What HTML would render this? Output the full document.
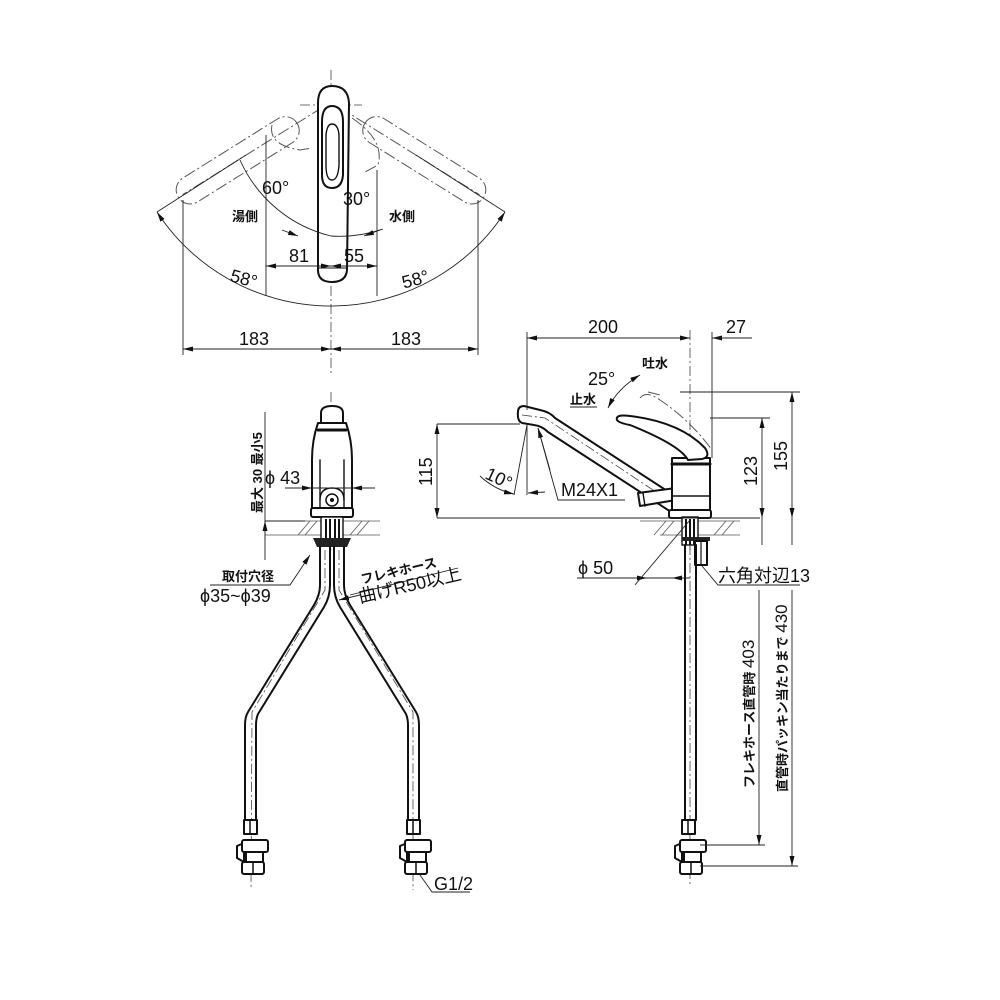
<!DOCTYPE html>
<html><head><meta charset="utf-8"><style>
html,body{margin:0;padding:0;background:#fff;}
svg{display:block;}
text{font-family:"Liberation Sans","Noto Sans CJK JP",sans-serif;fill:#111;}
.o{fill:none;stroke:#111;stroke-width:2;stroke-linejoin:round;stroke-linecap:round;}
.of{fill:#fff;stroke:#111;stroke-width:2;stroke-linejoin:round;}
.d{fill:none;stroke:#222;stroke-width:0.9;}
.c{fill:none;stroke:#444;stroke-width:0.8;stroke-dasharray:10,3,2,3;}
.g{fill:none;stroke:#555;stroke-width:1;stroke-dasharray:12,3,2,3;}
.h{fill:none;stroke:#555;stroke-width:0.8;}
.t{font-size:18px;}
.j{font-size:13px;font-weight:bold;}
</style></head><body>
<svg width="1000" height="1000" viewBox="0 0 1000 1000" xmlns="http://www.w3.org/2000/svg">
<defs>
<marker id="a" viewBox="0 0 10 6" refX="10" refY="3" markerWidth="10" markerHeight="6" orient="auto-start-reverse" markerUnits="userSpaceOnUse"><path d="M0,0.5 L10,3 L0,5.5 Z" fill="#111"/></marker>
</defs>

<!-- ================= TOP VIEW ================= -->
<line class="c" x1="331" y1="70" x2="331" y2="375"/>
<line class="c" x1="300" y1="105" x2="362" y2="105"/>
<!-- ghost handles -->
<g transform="translate(331,102) rotate(58)">
  <rect class="g" x="-14" y="40" width="28" height="140" rx="14"/>
  <line class="g" x1="0" y1="-10" x2="0" y2="175"/>
</g>
<g transform="translate(331,102) rotate(-58)">
  <rect class="g" x="-14" y="40" width="28" height="140" rx="14"/>
  <line class="g" x1="0" y1="-10" x2="0" y2="175"/>
</g>
<path class="g" d="M272,125 Q268,145 300,150 L312,148"/>
<path class="g" d="M352,118 Q385,140 378,165 L365,172"/>
<!-- handle -->
<path class="of" d="M318,103 Q318,86 332,86 Q348,86 349,103 L347,270 Q346,282 332,282 Q318,282 318,270 Z"/>
<path class="o" d="M322,122 Q322,106 332,106 Q343,106 343,122 L343,175 Q342,188 332,188 Q322,188 322,175 Z"/>
<path class="o" d="M326,135 Q327,124 332,124 Q338,124 339,135 L339,165 Q338,180 332,180 Q326,180 326,165 Z" style="stroke-width:1.4"/>
<path class="o" d="M318,268 L347,268" style="stroke-width:1"/>
<!-- arcs -->
<path class="d" d="M157,212 A208,208 0 0 0 505,212" marker-start="url(#a)" marker-end="url(#a)"/>
<line class="d" x1="157" y1="212" x2="246" y2="155"/>
<line class="d" x1="505" y1="212" x2="416" y2="155"/>
<path class="d" d="M240,160 A134,134 0 0 0 331,236"/>
<path class="d" d="M331,236 A134,134 0 0 0 383,229"/>
<text class="t" x="262" y="194">60°</text>
<text class="t" x="343" y="205">30°</text>
<text class="j" x="232" y="221">湯側</text>
<text class="j" x="389" y="221">水側</text>
<path class="d" d="M282,230 L298,236" marker-end="url(#a)"/>
<path class="d" d="M380,230 L364,236" marker-end="url(#a)"/>
<line class="d" x1="266" y1="135" x2="266" y2="296"/>
<line class="d" x1="377" y1="170" x2="377" y2="296"/>
<line class="d" x1="266" y1="266" x2="331" y2="266" marker-start="url(#a)" marker-end="url(#a)"/>
<line class="d" x1="331" y1="266" x2="377" y2="266" marker-start="url(#a)" marker-end="url(#a)"/>
<text class="t" x="289" y="262">81</text>
<text class="t" x="344" y="262">55</text>
<text class="t" x="230" y="285" transform="rotate(15 245 280)">58°</text>
<text class="t" x="402" y="285" transform="rotate(-15 417 280)">58°</text>
<line class="d" x1="183" y1="200" x2="183" y2="355"/>
<line class="d" x1="478" y1="200" x2="478" y2="355"/>
<line class="d" x1="183" y1="349" x2="331" y2="349" marker-start="url(#a)" marker-end="url(#a)"/>
<line class="d" x1="331" y1="349" x2="478" y2="349" marker-start="url(#a)" marker-end="url(#a)"/>
<text class="t" x="239" y="345">183</text>
<text class="t" x="391" y="345">183</text>

<!-- ================= FRONT VIEW ================= -->
<line class="c" x1="331" y1="392" x2="331" y2="550"/>
<path class="of" d="M321,423 L321,413 Q321,406 332,406 Q343,406 343,413 L343,423 Z"/>
<path class="of" d="M318,423 L346,423 Q352,440 352,460 L352,508 L312,508 L312,460 Q312,440 318,423 Z"/>
<line class="o" x1="318" y1="430" x2="346" y2="430" style="stroke-width:3"/>
<line class="o" x1="320" y1="460" x2="320" y2="508" style="stroke-width:1.4"/>
<line class="o" x1="344" y1="460" x2="344" y2="508" style="stroke-width:1.4"/>
<path class="o" d="M320,500 Q320,488 332,488 Q344,488 344,500" style="stroke-width:1.4"/>
<circle class="o" cx="332" cy="500" r="6" style="stroke-width:1.5"/>
<circle cx="332" cy="500" r="2" fill="#111"/>
<rect class="of" x="311" y="508" width="42" height="9" rx="2"/>
<!-- counter hatch -->
<line class="h" x1="265" y1="521" x2="380" y2="521"/>
<line class="h" x1="265" y1="535" x2="380" y2="535"/>
<g class="h"><line x1="298" y1="535" x2="310" y2="521"/><line x1="305" y1="535" x2="317" y2="521"/><line x1="350" y1="535" x2="362" y2="521"/><line x1="357" y1="535" x2="369" y2="521"/></g>
<rect x="321" y="517" width="22" height="22" fill="#fff" stroke="#111" stroke-width="1.4"/>
<g stroke="#111" stroke-width="2"><line x1="326" y1="519" x2="326" y2="545"/><line x1="330" y1="519" x2="330" y2="545"/><line x1="335" y1="519" x2="335" y2="545"/><line x1="339" y1="519" x2="339" y2="545"/></g>
<path d="M313,538 L351,538 L347,547 L317,547 Z" fill="#222"/>
<!-- hoses -->
<path class="o" d="M320,547 L320,585 Q320,595 314,605 L248,712 Q245,717 245,725 L245,820"/>
<path class="o" d="M330,547 L330,585 Q330,597 324,607 L258,714 Q256,719 256,725 L256,820"/>
<path class="o" d="M334,547 L334,585 Q334,597 340,607 L406,714 Q408,719 408,725 L408,820"/>
<path class="o" d="M344,547 L344,585 Q344,595 350,605 L416,712 Q419,717 419,725 L419,820"/>
<path class="c" d="M325,550 L325,590 L252,712 L251,890"/>
<path class="c" d="M339,550 L339,590 L413,712 L413,890"/>
<!-- valves left -->
<g id="v">
<rect class="of" x="244" y="820" width="13" height="14"/>
<line class="o" x1="250" y1="820" x2="250" y2="834" style="stroke-width:1.5"/>
<path class="of" d="M237,846 L237,858 L244,862 L244,843 Z"/>
<rect class="of" x="242" y="840" width="26" height="12" rx="2"/>
<rect class="of" x="246" y="852" width="17" height="10"/>
<rect class="of" x="242" y="862" width="22" height="12" rx="2"/>
<line class="o" x1="253" y1="862" x2="253" y2="874" style="stroke-width:1.5"/>
</g>
<use href="#v" transform="translate(163,0)"/>
<path class="d" d="M420,875 L432,892 L470,892"/>
<text class="t" x="434" y="890">G1/2</text>
<!-- front dims -->
<line class="d" x1="265" y1="412" x2="265" y2="560"/>
<line class="d" x1="265" y1="540" x2="265" y2="521" marker-end="url(#a)"/>
<line class="d" x1="265" y1="521" x2="305" y2="521"/>
<text class="j" font-size="16" x="0" y="0" transform="translate(262,513) rotate(-90)" style="font-weight:bold">最大 30 最小5</text>
<line class="d" x1="285" y1="488" x2="375" y2="488"/>
<line class="d" x1="295" y1="488" x2="312" y2="488" marker-end="url(#a)"/>
<line class="d" x1="368" y1="488" x2="352" y2="488" marker-end="url(#a)"/>
<text class="t" x="265" y="484">ϕ 43</text>
<path class="d" d="M210,585 L290,585 L310,555" marker-end="url(#a)"/>
<text class="j" x="222" y="581">取付穴径</text>
<text class="t" x="200" y="602">ϕ35~ϕ39</text>
<path class="d" d="M350,595 L458,568"/>
<line class="d" x1="360" y1="595" x2="339" y2="600" marker-end="url(#a)"/>
<text class="j" font-size="12" transform="translate(362,584) rotate(-13)">フレキホース</text>
<text class="t" transform="translate(360,603) rotate(-13)">曲げR50以上</text>

<!-- ================= SIDE VIEW ================= -->
<line class="c" x1="690" y1="330" x2="690" y2="550"/>
<line class="c" x1="527" y1="418" x2="542" y2="423"/>
<!-- spout -->
<path class="of" d="M518,412 Q518,406 524,406 L540,410 Q550,412 555,418 L678,498 Q684,503 680,510 Q676,515 668,510 L548,432 Q542,426 534,425 L522,423 Q517,421 518,412 Z"/>
<path class="c" d="M522,415 L545,418 L674,504"/>
<!-- side knob -->
<path class="of" d="M638,493 L676,488 L676,500 L640,506 Z"/>
<path class="o" d="M643,493 L645,506" style="stroke-width:1.4"/>
<!-- body -->
<rect class="of" x="672" y="458" width="38" height="52"/>
<line class="o" x1="672" y1="464" x2="710" y2="464" style="stroke-width:3"/>
<line class="o" x1="672" y1="496" x2="710" y2="496" style="stroke-width:1.4"/>
<path class="of" d="M617,420 Q615,414 630,416 Q680,422 705,448 Q711,457 702,459 L688,460 Q680,445 630,425 Q619,423 617,420 Z"/>
<path class="g" d="M640,398 Q646,390 660,400 Q690,420 712,450"/>
<path class="g" d="M648,392 L660,395"/>
<rect class="of" x="669" y="510" width="42" height="8" rx="2"/>
<!-- counter -->
<line class="h" x1="640" y1="521" x2="740" y2="521"/>
<line class="h" x1="660" y1="535" x2="740" y2="535"/>
<g class="h"><line x1="654" y1="535" x2="666" y2="521"/><line x1="662" y1="535" x2="674" y2="521"/><line x1="714" y1="535" x2="726" y2="521"/><line x1="722" y1="535" x2="734" y2="521"/></g>
<rect x="682" y="517" width="16" height="28" fill="#fff" stroke="#111" stroke-width="1.4"/>
<g stroke="#111" stroke-width="2"><line x1="686" y1="519" x2="686" y2="545"/><line x1="690" y1="519" x2="690" y2="545"/><line x1="694" y1="519" x2="694" y2="545"/></g>
<rect x="682" y="537" width="28" height="4" fill="#222"/>
<rect class="of" x="695" y="541" width="12" height="24"/>
<line class="o" x1="701" y1="541" x2="701" y2="565" style="stroke-width:1.2"/>
<!-- hose -->
<line class="o" x1="685" y1="545" x2="685" y2="820"/>
<line class="o" x1="696" y1="545" x2="696" y2="820"/>
<line class="c" x1="690" y1="545" x2="690" y2="885"/>
<use href="#v" transform="translate(438,0)"/>

<!-- side dims -->
<line class="d" x1="527" y1="332" x2="527" y2="410"/>
<line class="d" x1="712" y1="332" x2="712" y2="458"/>
<line class="d" x1="527" y1="338" x2="690" y2="338" marker-start="url(#a)" marker-end="url(#a)"/>
<line class="d" x1="740" y1="338" x2="712" y2="338" marker-end="url(#a)"/>
<line class="d" x1="712" y1="338" x2="752" y2="338"/>
<text class="t" x="588" y="333">200</text>
<text class="t" x="726" y="333">27</text>
<text class="t" x="588" y="385">25°</text>
<text class="j" x="642" y="368">吐水</text>
<text class="j" x="570" y="404">止水</text>
<line class="d" x1="570" y1="407" x2="597" y2="407"/>
<path class="d" d="M608,408 Q618,388 640,375" marker-start="url(#a)" marker-end="url(#a)"/>
<!-- 115 -->
<line class="d" x1="437" y1="424" x2="520" y2="424"/>
<line class="d" x1="437" y1="518" x2="760" y2="518"/>
<line class="d" x1="437" y1="424" x2="437" y2="518" marker-start="url(#a)" marker-end="url(#a)"/>
<text class="t" transform="translate(432,486) rotate(-90)">115</text>
<!-- 10 deg -->
<line class="d" x1="527" y1="425" x2="527" y2="495"/>
<line class="d" x1="527" y1="425" x2="514" y2="495"/>
<path class="d" d="M480,476 Q495,490 514,494" marker-end="url(#a)"/>
<line class="d" x1="545" y1="492" x2="528" y2="493" marker-end="url(#a)"/>
<text class="t" transform="translate(484,478) rotate(25)">10°</text>
<path class="d" d="M538,428 L558,500 L625,500" />
<line class="d" x1="550" y1="470" x2="538" y2="428" marker-end="url(#a)"/>
<text class="t" x="561" y="496">M24X1</text>
<!-- 123/155 -->
<line class="d" x1="710" y1="418" x2="770" y2="418"/>
<line class="d" x1="680" y1="392" x2="800" y2="392"/>
<line class="d" x1="762" y1="418" x2="762" y2="518" marker-start="url(#a)" marker-end="url(#a)"/>
<line class="d" x1="792" y1="392" x2="792" y2="518" marker-start="url(#a)" marker-end="url(#a)"/>
<text class="t" transform="translate(757,486) rotate(-90)">123</text>
<text class="t" transform="translate(787,471) rotate(-90)">155</text>
<line class="d" x1="762" y1="518" x2="762" y2="545"/>
<line class="d" x1="792" y1="518" x2="792" y2="545"/>
<!-- phi 50 -->
<line class="d" x1="577" y1="578" x2="690" y2="578"/>
<line class="d" x1="620" y1="578" x2="647" y2="578" marker-end="url(#a)"/>
<line class="d" x1="688" y1="578" x2="672" y2="578" marker-end="url(#a)"/>
<line class="d" x1="635" y1="585" x2="690" y2="520"/>
<text class="t" x="578" y="574">ϕ 50</text>
<path class="d" d="M702,566 L718,585 L800,585"/>
<text class="t" x="718" y="582">六角対辺13</text>
<!-- 403/430 -->
<line class="d" x1="759" y1="590" x2="759" y2="845" marker-end="url(#a)"/>
<line class="d" x1="700" y1="845" x2="765" y2="845"/>
<line class="d" x1="792" y1="590" x2="792" y2="866" marker-end="url(#a)"/>
<line class="d" x1="700" y1="866" x2="798" y2="866"/>
<text transform="translate(754,788) rotate(-90)" style="font-size:13px;font-weight:bold">フレキホース直管時 <tspan style="font-size:17px;font-weight:normal">403</tspan></text>
<text transform="translate(787,792) rotate(-90)" style="font-size:13px;font-weight:bold">直管時パッキン当たりまで <tspan style="font-size:17px;font-weight:normal">430</tspan></text>
</svg>
</body></html>
